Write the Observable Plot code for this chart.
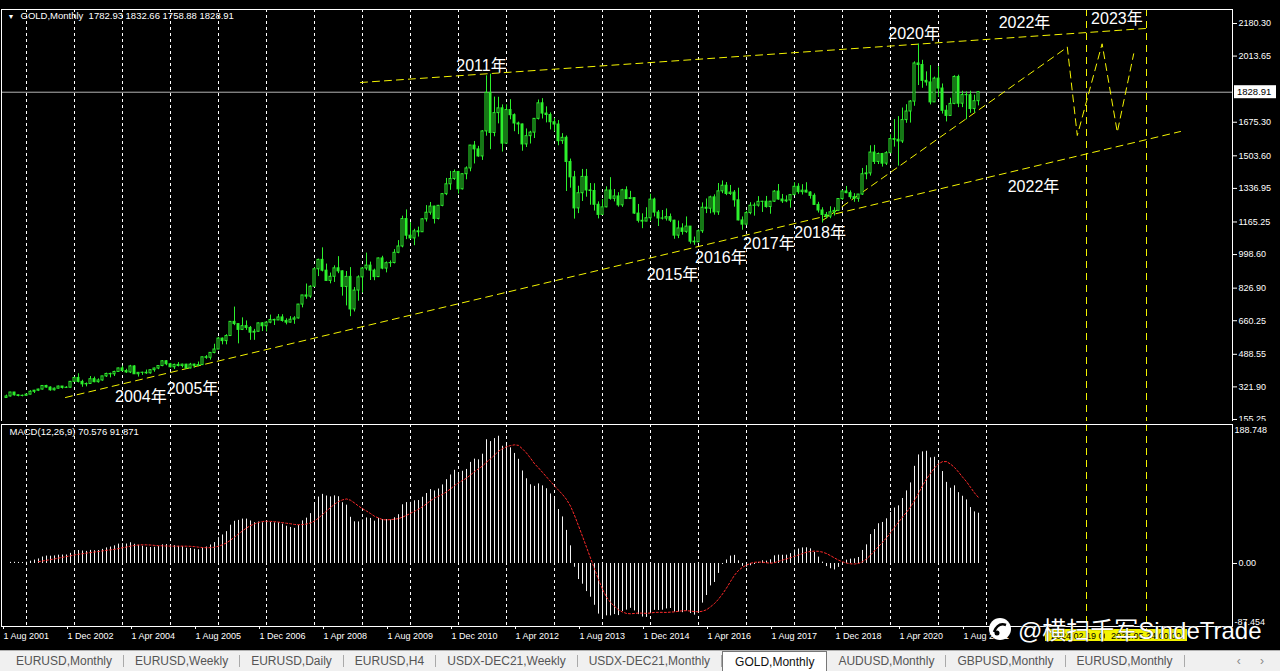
<!DOCTYPE html>
<html><head><meta charset="utf-8">
<script src="https://cdn.jsdelivr.net/npm/d3@7"></script>
<script src="https://cdn.jsdelivr.net/npm/@observablehq/plot@0.6"></script>
<style>
body{margin:0;width:1280px;height:671px;overflow:hidden;position:relative;background:#000;font-family:"Liberation Sans",Arial,sans-serif}
#topstrip{position:absolute;left:0;top:0;width:1280px;height:8px;background:#e6e6e6}
#main{position:absolute;left:0;top:0}
#macd{position:absolute;left:0;top:421px}
#tabs{position:absolute;left:0;top:650px;width:1280px;height:21px;background:#f0f0f0;border-top:1px solid #b0b0b0;box-sizing:border-box;display:flex;align-items:center;padding-left:5px;font-size:12px;color:#555}
#tabs span.t{padding:0 11px;border-right:1px solid #aaa;height:12px;line-height:12px}
#tabs span.active{background:#fff;border:1px solid #777;border-bottom:none;height:20px;line-height:20px;color:#111;margin-top:1px;padding:0 12px}
#tabs .arrows{position:absolute;right:8px;top:3px;color:#888;letter-spacing:8px}
#wm{position:absolute;left:988px;top:611px;color:#fff;font-size:24px;font-family:"Liberation Sans","Noto Sans CJK SC",sans-serif;white-space:nowrap;display:flex;align-items:center;text-shadow:0 0 1px #000}
#wm svg{margin-right:6px}
</style></head><body>
<div id="topstrip"></div>
<div id="main"></div>
<div id="macd"></div>
<div id="wm"><svg width="24" height="24" viewBox="0 0 24 24"><circle cx="12" cy="12" r="11" fill="#fff"/><path d="M6 15 Q10 5 18 8" stroke="#000" stroke-width="2.5" fill="none"/><circle cx="9" cy="16" r="2.5" fill="#000"/></svg><span>@横扫千军SindeTrade</span></div>
<div id="tabs"></div>
<script>
// ---------- data ----------
const symbolName = "GOLD,Monthly";
const startYear = 2001, startMonth = 7; // Aug 2001 (0-based month)
const firstOpen = 265.5;
const close = [
  273.0, 293.1, 278.8, 275.5, 276.5,
  282.3, 296.9, 302.4, 308.3, 326.6, 318.5, 304.6, 312.8, 323.7, 316.9, 317.7, 347.6,
  367.5, 347.5, 334.9, 336.8, 361.4, 346.0, 354.8, 375.6, 388.0, 386.3, 398.3, 416.3,
  402.8, 395.9, 426.5, 386.5, 393.8, 394.2, 391.3, 407.3, 415.8, 428.5, 452.9, 437.5,
  422.2, 434.4, 428.6, 435.7, 416.3, 435.8, 429.7, 433.3, 473.3, 470.8, 495.7, 513.0,
  568.8, 556.0, 582.0, 654.5, 643.0, 613.5, 632.5, 623.5, 599.3, 603.8, 646.7, 632.0,
  650.5, 664.2, 661.8, 677.0, 659.1, 650.5, 665.5, 672.0, 742.8, 789.5, 783.5, 834.0,
  923.3, 971.5, 916.2, 864.0, 885.0, 928.3, 912.7, 833.0, 884.5, 718.0, 814.5, 882.0,
  927.3, 942.0, 916.5, 883.3, 978.8, 926.9, 954.4, 955.3, 1007.6, 1040.0, 1180.3, 1095.2,
  1081.1, 1117.4, 1112.8, 1178.9, 1212.6, 1244.0, 1181.0, 1247.8, 1307.5, 1358.1, 1385.0, 1420.8,
  1332.4, 1409.6, 1439.0, 1556.0, 1536.5, 1500.4, 1628.4, 1825.5, 1620.4, 1722.0, 1746.4, 1565.8,
  1737.6, 1711.3, 1668.9, 1664.0, 1561.8, 1604.1, 1622.2, 1692.6, 1772.1, 1719.6, 1712.4, 1675.4,
  1663.6, 1578.6, 1595.7, 1472.2, 1393.5, 1234.6, 1312.3, 1395.8, 1326.5, 1323.6, 1253.2, 1201.6,
  1240.1, 1326.3, 1283.8, 1295.9, 1250.4, 1327.3, 1282.5, 1287.1, 1208.2, 1171.3, 1167.4, 1184.4,
  1279.7, 1213.3, 1183.2, 1182.6, 1190.2, 1171.8, 1095.4, 1132.2, 1114.7, 1141.6, 1064.6, 1061.4,
  1117.9, 1238.2, 1233.1, 1291.1, 1214.5, 1321.9, 1350.8, 1308.4, 1315.5, 1276.0, 1173.1, 1151.7,
  1210.7, 1248.3, 1249.1, 1268.3, 1268.6, 1241.6, 1269.0, 1320.5, 1280.1, 1270.8, 1275.2, 1302.6,
  1345.2, 1317.9, 1325.3, 1315.9, 1298.8, 1252.6, 1224.0, 1201.3, 1192.5, 1214.6, 1222.1, 1282.5,
  1321.2, 1312.7, 1292.3, 1283.5, 1305.6, 1409.5, 1413.7, 1520.3, 1472.4, 1512.8, 1463.5, 1517.0,
  1589.2, 1585.7, 1577.2, 1686.3, 1730.3, 1780.9, 1975.9, 1967.9, 1886.9, 1878.8, 1776.9, 1898.4,
  1847.7, 1733.9, 1707.7, 1769.1, 1906.9, 1770.1, 1814.2, 1813.6, 1742.8, 1782.93, 1828.91
];
const high = [
  280, 294, 293.5, 280, 280,
  285, 302, 304, 310, 328, 330, 322, 316, 326, 324, 323, 350,
  372, 389, 356, 342, 375, 372, 363, 376, 392, 392, 402, 418,
  428, 412, 432, 430, 395, 397, 408, 410, 418, 430, 456, 456,
  442, 438, 446, 438, 437, 442, 438, 449, 474, 482, 497, 540,
  575, 572, 589, 656, 730, 644, 675, 659, 631, 616, 649, 650,
  656, 689, 668, 692, 691, 670, 681, 681, 744, 790, 848, 839,
  930, 975, 1033, 950, 904, 941, 988, 915, 912, 932, 830, 890,
  930, 1006, 960, 924, 981, 990, 961, 966, 1024, 1070, 1195, 1227,
  1162, 1128, 1139, 1183, 1249, 1265, 1246, 1250, 1311, 1388, 1424, 1431,
  1424, 1412, 1447, 1557, 1577, 1552, 1632, 1913, 1921, 1804, 1803, 1764,
  1764, 1791, 1718, 1676, 1666, 1641, 1629, 1693, 1789, 1796, 1754, 1723,
  1694, 1684, 1617, 1605, 1487, 1424, 1348, 1434, 1434, 1362, 1361, 1268,
  1280, 1345, 1392, 1331, 1315, 1332, 1345, 1322, 1288, 1255, 1207, 1238,
  1307, 1287, 1224, 1224, 1232, 1206, 1174, 1170, 1156, 1191, 1142, 1088,
  1125, 1263, 1283, 1297, 1304, 1362, 1375, 1367, 1352, 1326, 1338, 1191,
  1220, 1264, 1262, 1295, 1271, 1296, 1270, 1326, 1357, 1306, 1299, 1306,
  1366, 1361, 1356, 1366, 1320, 1309, 1266, 1238, 1214, 1243, 1238, 1284,
  1326, 1347, 1324, 1310, 1306, 1439, 1453, 1555, 1557, 1518, 1516, 1525,
  1611, 1689, 1704, 1748, 1765, 1786, 1984, 2075, 1992, 1933, 1965, 1906,
  1959, 1871, 1760, 1798, 1913, 1916, 1834, 1831, 1834, 1814, 1832.66
];
const low = [
  264.5, 270.5, 275, 271, 271,
  276, 281, 288, 298, 306, 316, 300, 301, 311, 311, 314, 316,
  345, 342, 320, 322, 336, 343, 341, 351, 370, 368, 375, 397,
  398, 391, 390, 386, 372, 381, 386, 387, 397, 410, 425, 430,
  419, 411, 424, 419, 414, 414, 418, 425, 432, 463, 459, 491,
  513, 537, 537, 581, 635, 542, 610, 611, 560, 560, 603, 605,
  603, 645, 636, 661, 653, 639, 648, 642, 669, 726, 770, 775,
  832, 886, 910, 862, 849, 856, 901, 786, 736, 681, 705, 760,
  802, 916, 866, 865, 881, 921, 905, 933, 951, 1003, 1033, 1075,
  1075, 1044, 1088, 1112, 1165, 1200, 1155, 1176, 1243, 1300, 1327, 1378,
  1308, 1329, 1381, 1422, 1462, 1496, 1480, 1604, 1535, 1601, 1667, 1523,
  1564, 1688, 1627, 1612, 1527, 1546, 1564, 1592, 1687, 1692, 1672, 1636,
  1626, 1555, 1562, 1321, 1338, 1180, 1208, 1270, 1292, 1251, 1221, 1181,
  1202, 1238, 1277, 1268, 1241, 1240, 1280, 1282, 1204, 1160, 1131, 1167,
  1167, 1191, 1142, 1175, 1170, 1162, 1077, 1080, 1098, 1107, 1052, 1046,
  1061, 1107, 1208, 1207, 1200, 1199, 1310, 1300, 1301, 1241, 1171, 1123,
  1146, 1202, 1195, 1241, 1214, 1236, 1205, 1265, 1276, 1260, 1264, 1236,
  1302, 1307, 1303, 1314, 1282, 1250, 1211, 1160, 1180, 1182, 1196, 1221,
  1276, 1310, 1281, 1266, 1266, 1301, 1381, 1400, 1459, 1459, 1446, 1454,
  1517, 1548, 1451, 1567, 1670, 1671, 1757, 1863, 1849, 1860, 1764, 1776,
  1802, 1717, 1677, 1705, 1765, 1750, 1750, 1688, 1721, 1721, 1758.88
];
const priceTicks = [155.25, 321.90, 488.55, 660.25, 826.90, 998.60, 1165.25, 1336.95, 1503.60, 1675.30, 2013.65, 2180.30];
const macdHeaderValues = [70.576, 91.871];
const macdAxisExtremes = [188.748, -87.454];
const yearNotes = [
  {t: "2004年", i: 33.6, p: 272.8},
  {t: "2005年", i: 46.5, p: 313.7},
  {t: "2011年", i: 118.75, p: 1965.5},
  {t: "2015年", i: 166.5, p: 896.7},
  {t: "2016年", i: 178.6, p: 983.6},
  {t: "2017年", i: 190.6, p: 1055.2},
  {t: "2018年", i: 203.4, p: 1111.5},
  {t: "2020年", i: 226.9, p: 2129.2},
  {t: "2022年", i: 254.5, p: 2185.4},
  {t: "2023年", i: 277.6, p: 2205.9},
  {t: "2022年", i: 256.75, p: 1346.7}
];
const trendSupport = [{i: 14.75, p: 267.7}, {i: 293.5, p: 1628}];
const trendResist = [{i: 88.5, p: 1878.6}, {i: 284.75, p: 2154.7}];
const trend2018 = [{i: 204, p: 1172.8}, {i: 265.2, p: 2059.1}];
const zigzag = [{i: 265.2, p: 2059.1}, {i: 267.7, p: 1607.5}, {i: 273.9, p: 2076.5}, {i: 277.7, p: 1624.4}, {i: 281.8, p: 2025.3}];
const futureLines = [{i: 270, label: "2024.02.19 00:00"}, {i: 285, label: "2025.05.24 00:00"}];
const tabNames = ["EURUSD,Monthly","EURUSD,Weekly","EURUSD,Daily","EURUSD,H4","USDX-DEC21,Weekly","USDX-DEC21,Monthly","GOLD,Monthly","AUDUSD,Monthly","GBPUSD,Monthly","EURUSD,Monthly"];

// ---------- derived ----------
const n = close.length;
const open = [firstOpen, ...close.slice(0, -1)];
const bars = close.map((c, i) => ({i, o: open[i], h: high[i], l: low[i], c}));
const bull = bars.filter(d => d.c >= d.o), bear = bars.filter(d => d.c < d.o);
// MACD(12,26,9): EMA12-EMA26, signal = SMA9 of MACD (MetaTrader definition)
let e12 = close[0], e26 = close[0];
const macdVals = close.map((c, j) => {
  if (j > 0) { e12 = c * 2/13 + e12 * 11/13; e26 = c * 2/27 + e26 * 25/27; }
  return e12 - e26;
});
const macdRows = macdVals.map((m, j) => ({i: j, m, s: j >= 8 ? d3.mean(macdVals.slice(j - 8, j + 1)) : null}));
const gridMonths = d3.range(5, 246, 12);
const dateTicks = d3.range(0, 241, 16);
const fmtDate = i => d3.utcFormat("%-d %b %Y")(new Date(Date.UTC(startYear, startMonth + i, 1)));
const trends = [
  ...trendSupport.map(d => ({...d, k: "a"})),
  ...trendResist.map(d => ({...d, k: "b"})),
  ...trend2018.map(d => ({...d, k: "c"})),
  ...zigzag.map(d => ({...d, k: "d"}))
];

const GREEN = "#2cf02c", YELLOW = "#f4f400";
const FONT = "'Liberation Sans', Arial, sans-serif";
const xDomain = [-1.25, 306.5];
const baseStyle = {background: "black", color: "white", fontFamily: FONT, fontSize: "9px", overflow: "visible"};

// ---------- main price panel ----------
const last = bars[n - 1];
const header = `${symbolName}  ${last.o.toFixed(2)} ${last.h.toFixed(2)} ${last.l.toFixed(2)} ${last.c.toFixed(2)}`;
const mainPlot = Plot.plot({
  width: 1280, height: 421, marginLeft: 1, marginRight: 48, marginTop: 9, marginBottom: 0,
  style: baseStyle,
  x: {domain: xDomain, axis: null},
  y: {domain: [144.9, 2251.9], axis: null},
  marks: [
    Plot.ruleX(gridMonths, {stroke: "white", strokeDasharray: "3,3"}),
    Plot.ruleY([last.c], {stroke: "#b4b4b4"}),
    Plot.ruleX(futureLines, {x: "i", stroke: YELLOW, strokeDasharray: "7,5"}),
    Plot.line(trends, {x: "i", y: "p", z: "k", stroke: YELLOW, strokeDasharray: "7,5", strokeWidth: 1}),
    Plot.ruleX(bars, {x: "i", y1: "l", y2: "h", stroke: GREEN}),
    Plot.rect(bull, {x1: d => d.i - 0.25, x2: d => d.i + 0.25, y1: "o", y2: "c", fill: "black", stroke: GREEN}),
    Plot.rect(bear, {x1: d => d.i - 0.25, x2: d => d.i + 0.25, y1: "o", y2: "c", fill: GREEN, stroke: GREEN}),
    Plot.text(yearNotes, {x: "i", y: "p", text: "t", fill: "white", fontSize: 16, fontFamily: "'Liberation Sans','Noto Sans CJK SC',sans-serif"}),
    Plot.axisY({anchor: "right", ticks: priceTicks, tickFormat: d => d.toFixed(2), tickSize: 4, tickPadding: 2, label: null, fontSize: 9}),
    Plot.frame({stroke: "white"}),
    Plot.text([header], {frameAnchor: "top-left", dx: 19, dy: 3, lineAnchor: "top", textAnchor: "start", fill: "white", fontSize: 9.5}),
    Plot.text(["▼"], {frameAnchor: "top-left", dx: 6, dy: 5, lineAnchor: "top", textAnchor: "start", fill: "white", fontSize: 7})
  ]
});
document.getElementById("main").append(mainPlot);
{
  const yc = mainPlot.scale("y").apply(last.c);
  const g = d3.select(mainPlot).append("g").attr("text-anchor", "start");
  g.append("rect").attr("x", 1234).attr("y", yc - 6.5).attr("width", 42).attr("height", 13).attr("fill", "white");
  g.append("text").attr("x", 1237).attr("y", yc + 3.5).attr("text-anchor", "start").attr("fill", "black").attr("font-size", 9.5).attr("font-family", FONT).text(last.c.toFixed(2));
}

// ---------- MACD panel ----------
const macdPlot = Plot.plot({
  width: 1280, height: 229, marginLeft: 1, marginRight: 48, marginTop: 3, marginBottom: 24,
  style: baseStyle,
  x: {domain: xDomain},
  y: {domain: [-87.454, 192.95], axis: null},
  marks: [
    Plot.ruleX(gridMonths, {stroke: "white", strokeDasharray: "3,3"}),
    Plot.ruleX(macdRows, {x: "i", y1: 0, y2: "m", stroke: "#f4f4f4", strokeWidth: 1}),
    Plot.line(macdRows.filter(d => d.s != null), {x: "i", y: "s", stroke: "#ff2a2a", strokeDasharray: "2,2", strokeWidth: 1}),
    Plot.ruleX(futureLines, {x: "i", stroke: YELLOW, strokeDasharray: "7,5", insetBottom: -6}),
    Plot.axisX({anchor: "bottom", ticks: dateTicks, tickFormat: fmtDate, tickSize: 3, tickPadding: 3, textAnchor: "start", dx: -3, label: null, fontSize: 9}),
    Plot.axisY({anchor: "right", ticks: [0], tickFormat: d => d.toFixed(2), tickSize: 4, tickPadding: 2, label: null, fontSize: 9}),
    Plot.text([macdAxisExtremes[0]], {y: d => d, text: d => String(d), frameAnchor: "right", dx: 2, dy: 3, textAnchor: "start", fill: "white", fontSize: 9}),
    Plot.text([macdAxisExtremes[1]], {y: d => d, text: d => String(d), frameAnchor: "right", dx: 2, dy: -4, textAnchor: "start", fill: "white", fontSize: 9}),
    Plot.frame({stroke: "white"}),
    Plot.text([`MACD(12,26,9) ${macdHeaderValues[0]} ${macdHeaderValues[1]}`], {frameAnchor: "top-left", dx: 8, dy: 4, lineAnchor: "top", textAnchor: "start", fill: "white", fontSize: 9.5})
  ]
});
document.getElementById("macd").append(macdPlot);
{
  const sx = macdPlot.scale("x");
  const g = d3.select(macdPlot).append("g").attr("font-family", FONT).attr("font-size", 9);
  futureLines.forEach(f => {
    const cx = sx.apply(f.i);
    g.append("rect").attr("x", cx - 41).attr("y", 208).attr("width", 82).attr("height", 12).attr("fill", YELLOW);
    g.append("text").attr("x", cx).attr("y", 217.5).attr("text-anchor", "middle").attr("fill", "black").text(f.label);
  });
}

// ---------- tab bar ----------
const tabs = d3.select("#tabs");
tabNames.forEach((t, k) => {
  tabs.append("span").attr("class", t === symbolName && k === 6 ? "t active" : "t").text(t);
});
tabs.append("span").attr("class", "arrows").text("‹ ›");
</script>
</body></html>
